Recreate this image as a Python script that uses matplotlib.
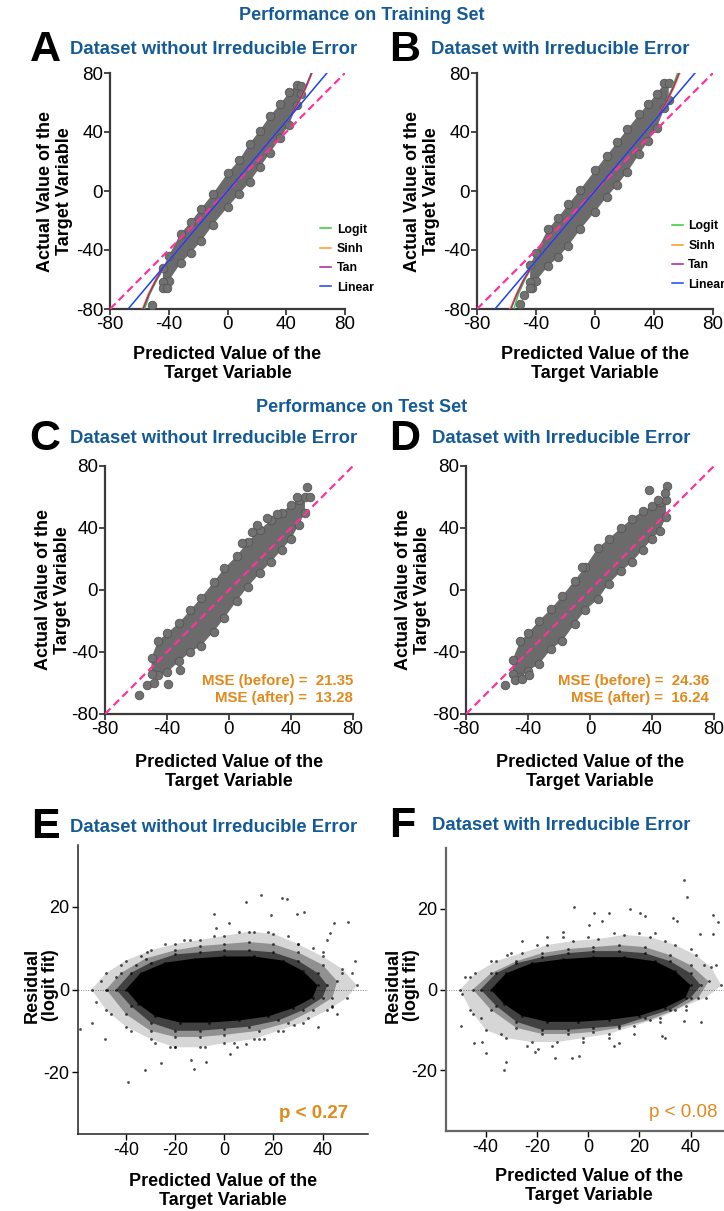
import matplotlib
matplotlib.use("Agg")
import matplotlib.pyplot as plt
import numpy as np

plt.rcParams['font.family'] = ['Liberation Sans', 'DejaVu Sans']
plt.rcParams['axes.unicode_minus'] = False

# ---------------- data ----------------
TICKS_AD = [-80, -40, 0, 40, 80]
IDENT = [-80, 80]

# fitted curves (training set) : predicted -> actual
FIT_NAMES = ["Logit", "Sinh", "Tan", "Linear"]
A_logit_x = [-56.5, -53, -48, -42, -34, -20, 0, 20, 34, 42, 48, 53, 57]
A_logit_y = [-80, -70, -60, -50, -40, -23.5, 0, 23.5, 40, 50, 60, 70, 80]
A_sinh_x = [-58, -54, -49, -42.5, -34, -20, 0, 20, 34, 42.5, 48.5, 53.5, 57.6]
A_sinh_y = [-80, -70, -60, -50, -40, -23.5, 0, 23.5, 40, 50, 60, 70, 80]
A_tan_x = [-57.5, -53.5, -48.5, -42.2, -34, -20, 0, 20, 34, 42.2, 48.2, 53.2, 57.3]
A_tan_y = [-80, -70, -60, -50, -40, -23.5, 0, 23.5, 40, 50, 60, 70, 80]
A_lin_x = [-67.7, 67.7]
A_lin_y = [-80, 80]

B_logit_x = [-55, -52, -47.5, -42, -34, -20, 0, 20, 34, 42, 48, 52.5, 56]
B_logit_y = [-80, -70, -60, -50, -40, -23.5, 0, 23.5, 40, 50, 60, 70, 80]
B_sinh_x = [-57.6, -53.5, -48.5, -42.5, -34, -20, 0, 20, 34, 42.5, 48.5, 53.5, 57.6]
B_sinh_y = [-80, -70, -60, -50, -40, -23.5, 0, 23.5, 40, 50, 60, 70, 80]
B_tan_x = [-57, -53, -48.2, -42.2, -34, -20, 0, 20, 34, 42.2, 48.2, 53, 57]
B_tan_y = [-80, -70, -60, -50, -40, -23.5, 0, 23.5, 40, 50, 60, 70, 80]
B_lin_x = [-67.8, 67.8]
B_lin_y = [-80, 80]

# scatter clouds (envelope of the dense band + isolated points)
A_x  = [-44, -40, -32, -25, -18, -10, 0, 8, 15, 22, 29, 36, 42, 47, 50]
A_hi = [-52, -44, -29, -21, -12, -2, 12, 21, 32, 41, 51, 59, 67, 72, 71]
A_lo = [-62, -61, -49, -42, -34, -23, -11, -2, 6, 16, 26, 36, 45, 58, 66]
A_out_x = [-44, -41.5, -51.4]
A_out_y = [-65.8, -65.5, -77]

B_x  = [-44, -40, -32, -25, -18, -10, 0, 8, 15, 22, 30, 36, 42, 47, 50]
B_hi = [-50, -42, -26, -18, -9, 1, 14, 24, 33, 42, 52, 59, 66, 73, 73]
B_lo = [-62, -61, -51, -45, -37, -26, -14, -4, 4, 13, 25, 34, 43, 56, 62]
B_out_x = [-42.7, -48, -50.8, -44]
B_out_y = [-65.8, -70.5, -76.6, -66]

C_x  = [-50, -46, -40, -32, -25, -18, -10, -3, 5, 12, 20, 27, 34, 40, 45, 49]
C_hi = [-44, -33, -28, -21, -13, -5, 5, 14, 22, 31, 39, 45, 50, 55, 58, 60]
C_lo = [-54, -55, -53, -46, -40, -36, -27, -18, -7, 2, 11, 18, 26, 33, 42, 50]
C_out_x = [-58, -53, -48.4, -39.4, -31.6, 8.4, 14.8, 24.5, 50.3, 52.3, 43.9, 31, 18]
C_out_y = [-67.7, -61, -60, -60.6, -51.6, 30.3, 37.4, 46.4, 66.5, 60, 60, 49, 42]

D_x  = [-50, -45, -40, -33, -25, -18, -10, -3, 5, 12, 20, 27, 34, 40, 45, 49]
D_hi = [-45, -33, -28, -20, -12, -4, 6, 15, 27, 33, 40, 46, 51, 54, 57, 58]
D_lo = [-54, -56, -52, -48, -38, -33, -22, -13, -6, 4, 12, 18, 26, 33, 38, 47]
D_out_x = [-54.8, -48.4, -43.9, -39.4, -5.2, 38, 49.7, 48.4, 44]
D_out_y = [-61.3, -58, -57.4, -54.8, 14.8, 64.5, 67, 62.6, 58]

MSE_C = (21.35, 13.28)
MSE_D = (24.36, 16.24)

# residual plots: nested density outlines (outer -> core) + isolated points
E_l1_x = [-54, -48, -40, -30, -20, -10, 0, 10, 20, 30, 40, 48, 54, 50, 42, 32, 22, 12, 0, -10, -20, -30, -40, -48]
E_l1_y = [0, 4, 7, 9.5, 11, 12, 13, 14, 13.5, 11, 8, 5, 1, -2, -5, -8, -10, -12, -13, -14, -14, -12, -9, -5]
E_l2_x = [-48, -42, -32, -20, -10, 0, 10, 20, 30, 40, 46, 44, 36, 26, 14, 0, -10, -20, -30, -40]
E_l2_y = [0, 4, 7.5, 9.5, 10.5, 11, 11.5, 11, 9, 6, 2, -2, -5, -8, -10, -11, -11.5, -11.5, -10, -6]
E_l3_x = [-44, -38, -30, -20, -10, 0, 10, 20, 30, 38, 42, 40, 32, 22, 10, 0, -10, -20, -30, -38]
E_l3_y = [0, 4, 6.5, 8.5, 9, 9.5, 9.5, 9, 7, 4, 1, -2, -5, -7.5, -9, -9.5, -10, -10, -8, -4]
E_core_x = [-40, -34, -24, -12, 0, 12, 24, 32, 38, 36, 28, 18, 6, -6, -18, -28, -35]
E_core_y = [0, 4, 6.5, 7.5, 8, 8, 7, 4.5, 1, -2, -4.5, -6.5, -7.5, -8, -8, -6.5, -3.5]
E_pts_x = [14.8, 23.4, 25.4, 8.7, -4.1, 19, 29.8, 32.3, 44.5, 50.4, 2, -3.3, -16.4, -31.6,
           53.3, 41.8, 43, -47.5, -39, -32.4, -12.3, -25.8, -7.4, 2.5, -13.5, -53.7, -58.6,
           -48.4, 9, 28.3, 43.9, 36, 48, -44, -52, 12, 26, -20, -28, 5, 38, 46, -36, 16,
           -50, -42, -34, -24, -14, -4, 6, 18, 30, 40, 52, -46, -38, -22, -8, 4, 14, 24, 34, 44]
E_pts_y = [22.9, 22.2, 22, 21.3, 18.3, 18, 18.3, 18.8, 16.1, 16.3, 16, 14.9, 12, 9,
           7, 12, 13.7, -0.2, -22.4, -19.6, -19.3, -17.9, -17.6, -15.7, -17, -8.1, -9.6,
           -12, -13.2, -8.6, -4.3, 10, 4, 3, -3, 14, 13, -14, -13, -14, -9, -6, 6, -12,
           2, 6, 8, 11, 12, 13, 14, 14, 11, 9, 4, -6, -10, -14, -14, -13, -12, -10, -7, -4]

F_l1_x = [-50, -44, -36, -26, -16, -6, 4, 14, 24, 34, 42, 48, 52, 46, 38, 28, 18, 8, -2, -12, -22, -32, -40, -46]
F_l1_y = [0, 4, 7, 9, 11, 12, 12.5, 13.5, 13, 11, 8.5, 5.5, 1, -2, -4, -7, -9, -11, -12, -13, -13, -12, -10, -5]
F_l2_x = [-45, -38, -28, -18, -8, 2, 12, 22, 32, 40, 47, 43, 34, 24, 12, 2, -8, -18, -28, -38]
F_l2_y = [0, 4, 7, 9, 10, 10.5, 11, 10.5, 8.5, 6, 2, -2, -5, -7.5, -9.5, -10.5, -11, -11, -9.5, -5]
F_l3_x = [-42, -36, -28, -18, -8, 2, 12, 22, 32, 40, 44, 40, 32, 22, 12, 2, -8, -18, -28, -36]
F_l3_y = [0, 4, 6.5, 8, 9, 9.5, 9.5, 9, 7, 4, 1, -2, -5, -7, -9, -9.5, -10, -10, -8, -4]
F_core_x = [-38, -32, -22, -10, 2, 14, 26, 34, 40, 38, 30, 20, 8, -4, -16, -26, -33]
F_core_y = [0, 4, 6.5, 7.5, 8, 8, 7, 4.5, 1, -2, -4.5, -6.5, -7.5, -8, -8, -6.5, -3.5]
F_pts_x = [37.5, 38.7, -5.5, 2.3, 8.2, 16.4, 20.3, 22.3, 33.2, 34.8, 48.8, 50.8, 48.8, 43.8,
           -9.8, 0.4, 5.5, -31.6, -48, -49.2, -32.8, -32, -39.8, -44.5, -41.4, -49.6, -12.9,
           -6.3, -3.5, 28.9, 37.5, 44.1, -20.7, -19.5, 12.1, -26, 26, 45, -45, 30, -16, 10,
           -46, -38, -30, -20, -10, 0, 10, 20, 30, 40, 50, -42, -34, -24, -14, -2, 8, 18, 28, 38]
F_pts_y = [27.2, 23, 20.5, 19, 18.8, 19.8, 18.8, 18.3, 17.8, 17, 18.5, 16.8, 13.8, 13.8,
           14.3, 16, 17, 8.6, 3, -1, -19.8, -18, -15.8, -13.3, -13, -9.1, -17,
           -17, -16.5, -11.4, -7.9, -8.1, -15.5, -14.8, -13.3, 12, 14, 6, -6, -12, 13, -14,
           3, 7, 9, 11, 13, 13, 14, 14, 12, 10, 6, -7, -11, -14, -14, -13, -12, -11, -8, -5]

P_E = "p < 0.27"
P_F = "p < 0.08"

# ---------------- styling ----------------
W, H = 724, 1211
fig = plt.figure(figsize=(W / 100, H / 100), dpi=100)
BLUE_T = "#145a96"
ORANGE = "#e0891c"
PINK = "#ff3399"
FIT_COLORS = ["#33cc33", "#ff9922", "#aa2299", "#1a44ee"]


def px_axes(l, t, r, b):
    return fig.add_axes([l / W, 1 - b / H, (r - l) / W, (b - t) / H])


def style_ad(ax):
    for s in ("top", "right"):
        ax.spines[s].set_visible(False)
    for s in ("left", "bottom"):
        ax.spines[s].set_color("#3a3a3a")
        ax.spines[s].set_linewidth(1.6)
    ax.set_xlim(-80, 80)
    ax.set_ylim(-80, 80)
    ax.set_xticks(TICKS_AD)
    ax.set_yticks(TICKS_AD)
    ax.tick_params(direction="out", length=4, width=1.3, color="#3a3a3a",
                   labelsize=13.5, pad=1)
    ax.set_xlabel("Predicted Value of the\nTarget Variable", fontsize=13, fontweight="bold",
                  linespacing=1.15, va="center")
    ax.set_ylabel("Actual Value of the\nTarget Variable", fontsize=13, fontweight="bold",
                  linespacing=1.15, va="center")


def cloud(ax, x, hi, lo, ox, oy):
    px = list(x) + list(x)[::-1]
    py = list(hi) + list(lo)[::-1]
    ax.fill(px, py, color="#6b6b6b", lw=0, zorder=2)
    ax.scatter(px, py, s=38, facecolor="#717171", edgecolor="#555555", lw=0.6, zorder=3)
    ax.scatter(ox, oy, s=38, facecolor="#717171", edgecolor="#555555", lw=0.6, zorder=3)


def identity(ax):
    ax.plot(IDENT, IDENT, color=PINK, lw=1.6, ls=(0, (3.5, 2)), zorder=5)


# ---- A & B ----
axA = px_axes(110, 73, 345, 309)
axB = px_axes(477, 73, 713, 309)
for ax, env, fits, leg_xy in (
        (axA, (A_x, A_hi, A_lo, A_out_x, A_out_y),
         ((A_logit_x, A_logit_y), (A_sinh_x, A_sinh_y), (A_tan_x, A_tan_y), (A_lin_x, A_lin_y)),
         (0.895, 0.362)),
        (axB, (B_x, B_hi, B_lo, B_out_x, B_out_y),
         ((B_logit_x, B_logit_y), (B_sinh_x, B_sinh_y), (B_tan_x, B_tan_y), (B_lin_x, B_lin_y)),
         (0.825, 0.375))):
    style_ad(ax)
    cloud(ax, *env)
    identity(ax)
    handles = []
    for (fx, fy), name, col in zip(fits, FIT_NAMES, FIT_COLORS):
        h, = ax.plot(fx, fy, color=col, lw=1.1, zorder=6, label=name)
        handles.append(h)
    ax.legend(handles=handles, loc="upper left", bbox_to_anchor=leg_xy, frameon=False,
              prop={"weight": "bold", "size": 8.8}, handlelength=0.9,
              handletextpad=0.45, labelspacing=0.6, borderpad=0, borderaxespad=0)
    ax.xaxis.set_label_coords(0.5, -0.233)
    ax.yaxis.set_label_coords(-0.235, 0.5)

# ---- C & D ----
axC = px_axes(105, 466, 353, 714)
axD = px_axes(466, 466, 714, 714)
for ax, env, mse in ((axC, (C_x, C_hi, C_lo, C_out_x, C_out_y), MSE_C),
                     (axD, (D_x, D_hi, D_lo, D_out_x, D_out_y), MSE_D)):
    style_ad(ax)
    cloud(ax, *env)
    identity(ax)
    ax.text(1.0 if ax is axC else 0.98, 0.10, "MSE (before) =  %.2f\nMSE (after) =  %.2f" % mse,
            transform=ax.transAxes, ha="right", va="center", color=ORANGE,
            fontsize=10.8, fontweight="bold", linespacing=1.3)
    ax.xaxis.set_label_coords(0.5, -0.234)
    ax.yaxis.set_label_coords(-0.208 if ax is axC else -0.212, 0.5)

# ---- E & F ----
axE = px_axes(78, 845, 368, 1134)
axF = px_axes(446, 848, 724, 1131)
for ax, xl, layers, pts in (
        (axE, (-59.5, 58.5),
         ((E_l1_x, E_l1_y), (E_l2_x, E_l2_y), (E_l3_x, E_l3_y), (E_core_x, E_core_y)),
         (E_pts_x, E_pts_y)),
        (axF, (-55.5, 53),
         ((F_l1_x, F_l1_y), (F_l2_x, F_l2_y), (F_l3_x, F_l3_y), (F_core_x, F_core_y)),
         (F_pts_x, F_pts_y))):
    for s in ("top", "right"):
        ax.spines[s].set_visible(False)
    for s in ("left", "bottom"):
        ax.spines[s].set_color("#222222" if ax is axE else "#666666")
        ax.spines[s].set_linewidth(1.1 if ax is axE else 1.6)
    ax.set_xlim(*xl)
    ax.set_ylim(-35, 35)
    ax.set_xticks([-40, -20, 0, 20, 40])
    ax.set_yticks([-20, 0, 20])
    ax.tick_params(direction="out", length=4, width=1.0, labelsize=13, pad=2)
    ax.axhline(0, color="#888888", lw=0.7, ls=(0, (1, 1.5)), zorder=1)
    for (lx, ly), al in zip(layers, (0.16, 0.32, 0.55, 1.0)):
        ax.fill(lx, ly, color="black", alpha=al, lw=0, zorder=2)
        ax.scatter(lx, ly, s=4, color="black", alpha=0.7, lw=0, zorder=3)
    ax.scatter(pts[0], pts[1], s=4, color="black", alpha=0.7, lw=0, zorder=3)
    ax.set_xlabel("Predicted Value of the\nTarget Variable", fontsize=13, fontweight="bold",
                  linespacing=1.15, va="center")
    ax.set_ylabel("Residual\n(logit fit)", fontsize=13, fontweight="bold", linespacing=1.1,
                  va="center")
axE.text(0.93, 0.07, P_E, transform=axE.transAxes, ha="right", va="center", color=ORANGE,
         fontsize=13.5, fontweight="bold")
axF.text(0.978, 0.064, P_F, transform=axF.transAxes, ha="right", va="center", color=ORANGE,
         fontsize=13.5)
axE.xaxis.set_label_coords(0.5, -0.197)
axF.xaxis.set_label_coords(0.515, -0.194)
axE.yaxis.set_label_coords(-0.125, 0.515)
axF.yaxis.set_label_coords(-0.158, 0.515)

# ---- titles & letters ----
fig.text(362 / W, 1 - 16 / H, "Performance on Training Set", ha="center", va="center",
         color=BLUE_T, fontsize=13, fontweight="bold")
fig.text(362 / W, 1 - 408 / H, "Performance on Test Set", ha="center", va="center",
         color=BLUE_T, fontsize=13, fontweight="bold")
panel_titles = [("A", 45, 50, 70, "Dataset without Irreducible Error"),
                ("B", 405, 50, 431, "Dataset with Irreducible Error"),
                ("C", 45, 439, 70, "Dataset without Irreducible Error"),
                ("D", 405, 439, 432, "Dataset with Irreducible Error"),
                ("E", 45, 827, 70, "Dataset without Irreducible Error"),
                ("F", 402, 826, 432, "Dataset with Irreducible Error")]
for letter, lx, y, tx, title in panel_titles:
    fig.text(lx / W, 1 - y / H, letter, ha="center", va="center", fontsize=31,
             fontweight="bold", color="black")
    fig.text(tx / W, 1 - y / H, title, ha="left", va="center", fontsize=13.3,
             fontweight="bold", color=BLUE_T)

fig.savefig("out.png", dpi=100)
